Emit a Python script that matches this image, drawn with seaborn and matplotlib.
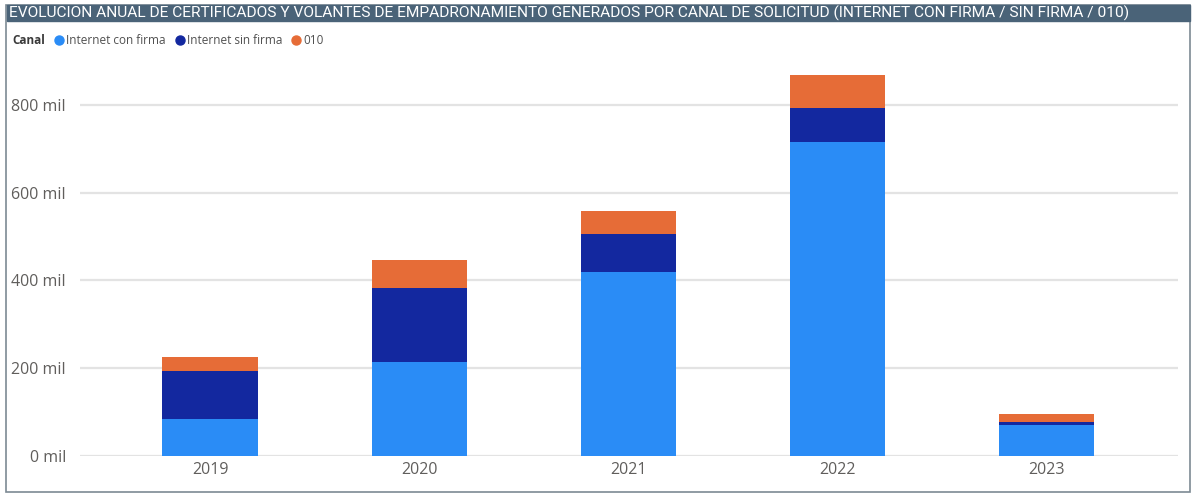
import numpy as np
import pandas as pd
import matplotlib
matplotlib.use("Agg")
import matplotlib.pyplot as plt
import seaborn as sns
from matplotlib.lines import Line2D
from matplotlib.patches import Rectangle
from matplotlib.ticker import FuncFormatter

# values in thousands
years = ["2019", "2020", "2021", "2022", "2023"]
con_firma = [84, 214, 419, 716, 71]
sin_firma = [110, 169, 87, 77, 6]
tel_010 = [32, 64, 52, 75, 19]

canales = ["Internet con firma", "Internet sin firma", "010"]
colores = ["#2A8CF6", "#13289F", "#E66C37"]

title = ("EVOLUCION ANUAL DE CERTIFICADOS Y VOLANTES DE EMPADRONAMIENTO GENERADOS "
         "POR CANAL DE SOLICITUD (INTERNET CON FIRMA / SIN FIRMA / 010)")

sns.set_theme(style="white")
plt.rcParams["font.family"] = ["Open Sans", "DejaVu Sans"]

df = pd.DataFrame({"year": years, "Internet con firma": con_firma,
                   "Internet sin firma": sin_firma, "010": tel_010})
cum = df[canales].cumsum(axis=1)

W, H = 1195, 498
fig = plt.figure(figsize=(W / 100, H / 100), dpi=100)
ax = fig.add_axes([80 / W, 1 - 456 / H, (1178 - 80) / W, (456 - 61) / H])

# stacked bars: draw cumulative totals from top segment down
for canal, color in reversed(list(zip(canales, colores))):
    sns.barplot(x=df["year"], y=cum[canal], color=color, width=0.455,
                saturation=1, linewidth=0, ax=ax, zorder=3)

ax.set_xlim(-0.622, 4.63)
ax.set_ylim(0, 900)
ax.set_yticks([0, 200, 400, 600, 800])
ax.yaxis.set_major_formatter(FuncFormatter(lambda v, p: f"{int(v)} mil"))
ax.grid(axis="y", color="#e3e3e3", lw=1.6, zorder=0)
ax.set_xlabel("")
ax.set_ylabel("")
for s in ax.spines.values():
    s.set_visible(False)
ax.tick_params(axis="both", length=0, labelsize=11.5, labelcolor="#605E5C")
ax.tick_params(axis="y", pad=10)
ax.tick_params(axis="x", pad=4)

# outer frame and title bar
fig.patches.append(Rectangle((6 / W, 1 - 492 / H), (1190 - 6) / W, (492 - 5) / H,
                             transform=fig.transFigure, fill=False,
                             edgecolor="#7d8a94", lw=1.2))
fig.patches.append(Rectangle((7 / W, 1 - 21 / H), (1190 - 7) / W, 16 / H,
                             transform=fig.transFigure, color="#4a6378"))
t = fig.text(9 / W, 1 - 13.5 / H, title, color="white", fontsize=12,
             family=["Roboto", "DejaVu Sans"], va="center", ha="left")
# shrink title so it ends where the reference does (~1127 px)
fig.canvas.draw()
tw = t.get_window_extent().width
t.set_fontsize(12 * (1118 / tw))

# legend
fig.text(12 / W, 1 - 41 / H, "Canal", fontsize=8.5, weight="bold",
         color="#3a3a3a", va="center")
handles = [Line2D([], [], ls="", marker="o", markersize=6.5, color=c) for c in colores]
fig.legend(handles, canales, loc="center left", bbox_to_anchor=(47 / W, 1 - 41 / H),
           ncol=3, frameon=False, fontsize=8.5, handletextpad=0.0,
           columnspacing=0.6, handlelength=1.2, borderaxespad=0,
           labelcolor="#505050")

fig.savefig("out.png", dpi=100)
